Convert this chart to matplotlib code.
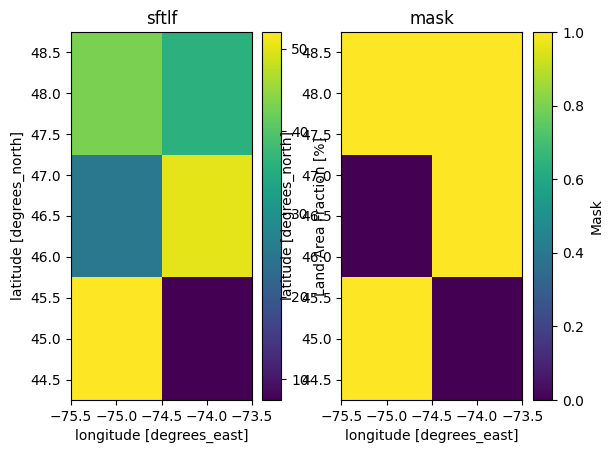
"""sftlf field and derived land mask, side by side."""

import numpy as np
import matplotlib.pyplot as plt

# grid cell edges / centres
lon = [-75.0, -74.0]
lat = [45.0, 46.5, 48.0]
lon_edges = [-75.5, -74.5, -73.5]
lat_edges = [44.25, 45.75, 47.25, 48.75]

# land area fraction [%], rows = lat (south -> north), cols = lon
sftlf = [
    [52.0, 7.5],
    [25.3, 50.2],
    [43.0, 36.0],
]
sftlf_ticks = [10, 20, 30, 40, 50]
# mask (1 = land kept)
mask = [
    [1, 0],
    [0, 1],
    [1, 1],
]

fig = plt.figure(figsize=(6.12, 4.54), dpi=100)
H, W = 454, 612
bot = (454 - 400) / H
hgt = 368 / H
ax1 = fig.add_axes([71 / W, bot, 181 / W, hgt])
cax1 = fig.add_axes([262.3 / W, bot, 19 / W, hgt])
ax2 = fig.add_axes([341.3 / W, bot, 181 / W, hgt])
cax2 = fig.add_axes([533.3 / W, bot, 19 / W, hgt])

m1 = ax1.pcolormesh(lon_edges, lat_edges, np.array(sftlf), cmap='viridis')
cb1 = fig.colorbar(m1, cax=cax1, ticks=sftlf_ticks)
cb1.set_label('Land Area Fraction [%]')
ax1.set_title('sftlf')

m2 = ax2.pcolormesh(lon_edges, lat_edges, np.array(mask, dtype=float),
                    cmap='viridis', vmin=0, vmax=1)
cb2 = fig.colorbar(m2, cax=cax2)
cb2.set_label('Mask')
ax2.set_title('mask')

for ax in (ax1, ax2):
    ax.set_xlabel('longitude [degrees_east]')
    ax.set_ylabel('latitude [degrees_north]')
    ax.set_xticks([-75.5, -75.0, -74.5, -74.0, -73.5])
    ax.set_yticks([44.5, 45.0, 45.5, 46.0, 46.5, 47.0, 47.5, 48.0, 48.5])

plt.savefig('out.png', dpi=100)
